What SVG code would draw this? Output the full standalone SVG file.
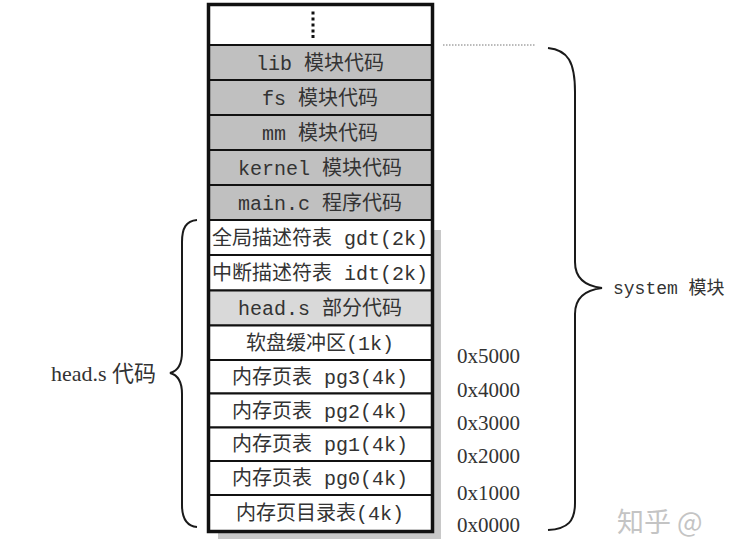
<svg xmlns="http://www.w3.org/2000/svg" width="730" height="542" viewBox="0 0 730 542">
<style>
  .cell { stroke: #111; stroke-width: 2; }
  .white { fill: #ffffff; }
  .gray { fill: #c0c0c0; }
  .light { fill: #d9d9d9; }
  .lbl { font-family: "Liberation Mono", "Noto Sans CJK SC", monospace; font-size: 20px; fill: #333; text-anchor: middle; }
  .addr { font-family: "Liberation Serif", "Noto Sans CJK SC", serif; font-size: 21px; fill: #333; }
  .side { font-family: "Liberation Serif", "Noto Sans CJK SC", serif; font-size: 22px; fill: #333; }
  .sys { font-family: "Liberation Mono", "Noto Sans CJK SC", monospace; font-size: 18px; fill: #333; }
  .brace { fill: none; stroke: #1a1a1a; stroke-width: 2; }
  .wm { font-family: "Noto Sans CJK SC", "Noto Sans", sans-serif; font-size: 27px; fill: #c4c4c4; }
</style>
<rect width="730" height="542" fill="#ffffff"/>
<rect id="shadow" x="218" y="230" width="223" height="309" fill="#c8c8c8"/>
<g id="memory">
  <g id="row-top"><rect class="cell white" x="208.5" y="4.5" width="224" height="40.5"/>
    <g fill="#111"><rect x="311.5" y="11.5" width="3" height="3"/><rect x="311.5" y="17.5" width="3" height="3"/><rect x="311.5" y="23.5" width="3" height="3"/><rect x="311.5" y="29.5" width="3" height="3"/><rect x="311.5" y="35" width="3" height="3"/></g></g>
  <g id="row-lib"><rect class="cell gray" x="208.5" y="45" width="224" height="35"/><text class="lbl" x="320" y="69.5">lib 模块代码</text></g>
  <g id="row-fs"><rect class="cell gray" x="208.5" y="80" width="224" height="35"/><text class="lbl" x="320" y="104.5">fs 模块代码</text></g>
  <g id="row-mm"><rect class="cell gray" x="208.5" y="115" width="224" height="35"/><text class="lbl" x="320" y="139.5">mm 模块代码</text></g>
  <g id="row-kernel"><rect class="cell gray" x="208.5" y="150" width="224" height="35"/><text class="lbl" x="320" y="174.5">kernel 模块代码</text></g>
  <g id="row-main"><rect class="cell gray" x="208.5" y="185" width="224" height="35"/><text class="lbl" x="320" y="209.5">main.c 程序代码</text></g>
  <g id="row-gdt"><rect class="cell white" x="208.5" y="220" width="224" height="35"/><text class="lbl" x="320" y="244.5">全局描述符表 gdt(2k)</text></g>
  <g id="row-idt"><rect class="cell white" x="208.5" y="255" width="224" height="35.5"/><text class="lbl" x="320" y="279.5">中断描述符表 idt(2k)</text></g>
  <g id="row-head"><rect class="cell light" x="208.5" y="290.5" width="224" height="35"/><text class="lbl" x="320" y="315">head.s 部分代码</text></g>
  <g id="row-floppy"><rect class="cell white" x="208.5" y="325.5" width="224" height="34.5"/><text class="lbl" x="320" y="350">软盘缓冲区(1k)</text></g>
  <g id="row-pg3"><rect class="cell white" x="208.5" y="360" width="224" height="33.5"/><text class="lbl" x="320" y="384">内存页表 pg3(4k)</text></g>
  <g id="row-pg2"><rect class="cell white" x="208.5" y="393.5" width="224" height="34"/><text class="lbl" x="320" y="417.5">内存页表 pg2(4k)</text></g>
  <g id="row-pg1"><rect class="cell white" x="208.5" y="427.5" width="224" height="33.5"/><text class="lbl" x="320" y="451">内存页表 pg1(4k)</text></g>
  <g id="row-pg0"><rect class="cell white" x="208.5" y="461" width="224" height="34"/><text class="lbl" x="320" y="485">内存页表 pg0(4k)</text></g>
  <g id="row-dir"><rect class="cell white" x="208.5" y="495" width="224" height="36.5"/><text class="lbl" x="320" y="520">内存页目录表(4k)</text></g>
  <rect x="208.5" y="4.5" width="224" height="527" fill="none" stroke="#111" stroke-width="3.5"/>
</g>
<g id="addresses">
  <text class="addr" x="457" y="363">0x5000</text>
  <text class="addr" x="457" y="397">0x4000</text>
  <text class="addr" x="457" y="430">0x3000</text>
  <text class="addr" x="457" y="463">0x2000</text>
  <text class="addr" x="457" y="500">0x1000</text>
  <text class="addr" x="457" y="532">0x0000</text>
</g>
<g id="connectors">
  <line x1="443" y1="45" x2="535" y2="45" stroke="#777" stroke-width="1" stroke-dasharray="1.5 1.5"/>
  <path class="brace" d="M548,48 C568,50 575,62 575,92 L575,262 C575,278 585,286 602,288 C585,290 575,298 575,314 L575,503 C575,521 568,529 548,530"/>
  <path class="brace" d="M197,220 C186,221 182,228 182,242 L182,352 C182,365 178,371 170,373 C178,375 182,381 182,394 L182,505 C182,518 186,526 197,527"/>
</g>
<g id="label-system"><text class="sys" x="613" y="294">system 模块</text></g>
<g id="label-head"><text class="side" x="156" y="381" text-anchor="end">head.s 代码</text></g>
<g id="watermark"><text class="wm" x="617" y="532">知乎 @</text></g>
</svg>
